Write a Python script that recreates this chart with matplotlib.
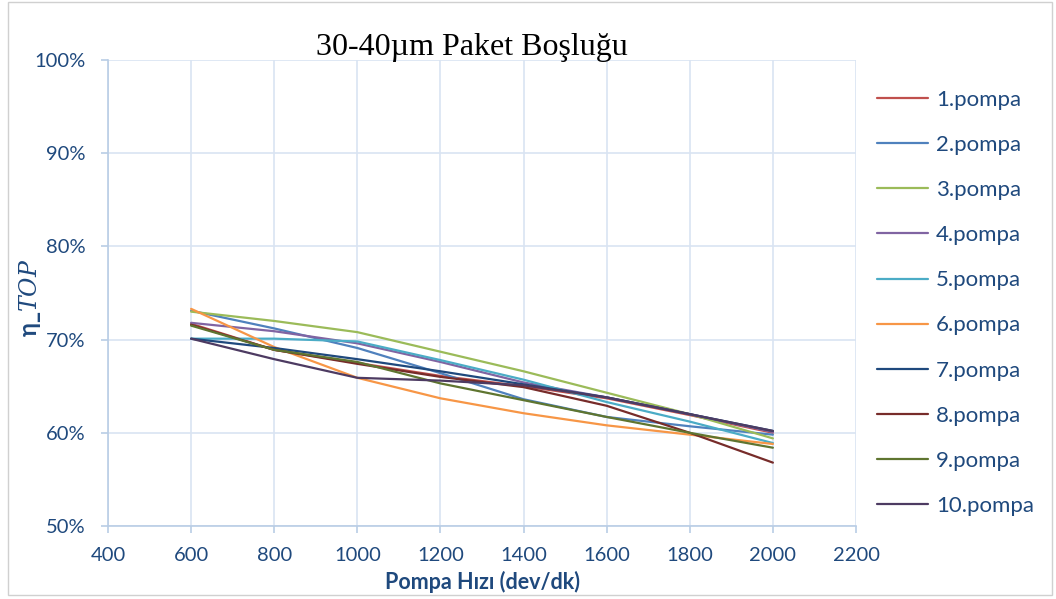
import matplotlib
matplotlib.use("Agg")
import matplotlib.pyplot as plt
from matplotlib.patches import Rectangle
from matplotlib.ticker import PercentFormatter

# === DATA ===
speeds = [600, 800, 1000, 1200, 1400, 1600, 1800, 2000]
pump_names = ["1.pompa", "2.pompa", "3.pompa", "4.pompa", "5.pompa",
              "6.pompa", "7.pompa", "8.pompa", "9.pompa", "10.pompa"]

pompa1 = [71.7, 68.9, 67.5, 66.1, 65.0, 63.7, 61.9, 60.0]
pompa2 = [73.1, 71.2, 69.1, 66.4, 63.6, 61.7, 60.7, 59.8]
pompa3 = [73.0, 72.0, 70.8, 68.7, 66.6, 64.3, 62.0, 59.4]
pompa4 = [71.8, 70.9, 69.6, 67.6, 65.4, 63.8, 62.0, 60.1]
pompa5 = [70.1, 70.1, 69.8, 67.8, 65.7, 63.3, 61.2, 58.9]
pompa6 = [73.3, 69.2, 65.9, 63.7, 62.1, 60.8, 59.8, 58.8]
pompa7 = [70.1, 69.1, 67.9, 66.6, 65.2, 63.8, 62.0, 60.2]
pompa8 = [71.6, 68.9, 67.4, 66.0, 64.9, 62.9, 60.0, 56.8]
pompa9 = [71.5, 68.9, 67.6, 65.3, 63.5, 61.7, 60.0, 58.4]
pompa10 = [70.1, 67.9, 65.9, 65.6, 65.1, 63.8, 62.0, 60.2]

x_ticks = [400, 600, 800, 1000, 1200, 1400, 1600, 1800, 2000, 2200]
y_ticks = [50, 60, 70, 80, 90, 100]

# === STYLE ===
colors = ["#C0504D", "#4F81BD", "#9BBB59", "#8064A2", "#4BACC6",
          "#F79646", "#1F497D", "#772C2A", "#5F7530", "#4D3B62"]
TEXT_BLUE = "#1F497D"
GRID_BLUE = "#D9E4F2"

plt.rcParams["font.family"] = ["Lato", "DejaVu Sans"]
plt.rcParams["mathtext.fontset"] = "dejavuserif"

fig = plt.figure(figsize=(10.56, 5.99), dpi=100)
ax = fig.add_axes([108 / 1056, 1 - 526 / 599, (856 - 108) / 1056, (526 - 60) / 599])

series = [pompa1, pompa2, pompa3, pompa4, pompa5,
          pompa6, pompa7, pompa8, pompa9, pompa10]
for vals, name, col in zip(series, pump_names, colors):
    ax.plot(speeds, vals, color=col, lw=1.6, label=name, solid_capstyle="round")

ax.set_xlim(400, 2200)
ax.set_ylim(50, 100)
ax.set_xticks(x_ticks)
ax.set_yticks(y_ticks)
ax.yaxis.set_major_formatter(PercentFormatter(decimals=0))
ax.grid(True, color=GRID_BLUE, lw=1.2)
ax.set_axisbelow(True)

for side in ["top", "right"]:
    ax.spines[side].set_visible(False)
for side in ["left", "bottom"]:
    ax.spines[side].set_color("#B9CDE5")
    ax.spines[side].set_linewidth(1.2)

ax.tick_params(axis="both", colors="#B9CDE5", labelcolor=TEXT_BLUE,
               labelsize=14.5, length=5, width=1.2, direction="out")
ax.tick_params(axis="y", pad=11)
ax.tick_params(axis="x", pad=10)

ax.set_xlabel("Pompa Hızı (dev/dk)", fontsize=15.5, fontweight="bold",
              color=TEXT_BLUE, labelpad=5)
ax.set_ylabel(r"η_$\mathit{TOP}$", fontsize=17, fontweight="bold",
              color=TEXT_BLUE)
ax.yaxis.set_label_coords((43 - 108) / 748, 0.49)

fig.text(472 / 1056, 1 - 48 / 599, "30-40µm Paket Boşluğu",
         family="Liberation Serif", fontsize=23, ha="center", va="center")

leg = ax.legend(loc="upper left", bbox_to_anchor=(868 / 1056, 1 - 81 / 599),
                bbox_transform=fig.transFigure, frameon=False, fontsize=16,
                handlelength=2.3, handletextpad=0.35, labelspacing=1.13,
                borderaxespad=0)
for t in leg.get_texts():
    t.set_color(TEXT_BLUE)

# thin chart-area border
fig.patches.append(Rectangle((8 / 1056, 4 / 599), 1044 / 1056, 593 / 599,
                             transform=fig.transFigure, fill=False,
                             edgecolor="#D0D0D0", lw=1))

fig.savefig("out.png", dpi=100)
